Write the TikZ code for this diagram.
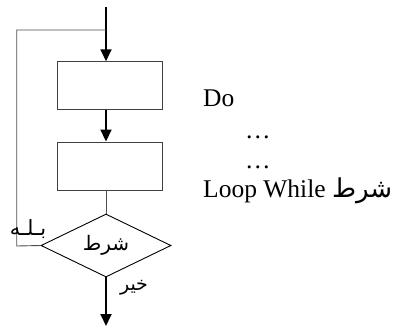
\documentclass[tikz,border=0pt]{standalone}
\usepackage{fontspec}
\setmainfont{Liberation Serif}
\newfontfamily\arabicfont[Script=Arabic]{DejaVu Sans}
\TeXXeTstate=1
\usetikzlibrary{arrows.meta,shapes.geometric}
\tikzset{
  procbox/.style={draw=black!75, line width=0.9pt, minimum width=105.4pt, minimum height=48pt, inner sep=0pt},
  decision/.style={draw=black, line width=0.9pt, diamond, aspect=2, minimum width=130pt, minimum height=63pt, inner sep=0pt},
  flow/.style={line width=1.8pt, -{Triangle[length=12pt,width=11pt]}},
  thickline/.style={line width=1.8pt},
  thinline/.style={draw=black!70, line width=0.9pt},
  codetext/.style={font=\fontsize{25.5}{30}\selectfont, inner sep=0pt},
  lbl/.style={font=\fontsize{18}{20}\selectfont\arabicfont, inner sep=0pt},
}
\begin{document}
\begin{tikzpicture}[x=1pt,y=-1pt]
\useasboundingbox (0,0) rectangle (393,327);
\coordinate (start) at (106,7);
\coordinate (split) at (106,30);
\coordinate (corner1) at (16.7,30);
\coordinate (corner2) at (16.7,246);
\coordinate (endpt) at (106,326);
\node[procbox] (box1) at (110,85.7) {};
\node[procbox] (box2) at (110,166) {};
\node[decision] (cond) at (106,245.5) {};
\node[lbl, font=\fontsize{20}{22}\selectfont\arabicfont] (condtxt) at (cond.center) {\beginR شرط\endR};
% connectors
\draw[thickline] (start) -- (split);
\draw[flow] (split) -- (box1.north -| split);
\draw[flow] (box1.south -| split) -- (box2.north -| split);
\draw[thinline] (box2.south -| cond.north) -- (cond.north);
\draw[flow] (cond.south) -- (endpt);
\draw[thinline] (split) -- (corner1) -- (corner2) -- (cond.west);
% labels
\node[lbl, font=\fontsize{21}{22}\selectfont\arabicfont] (yes) at (28,229) {\beginR بـلـه\endR};
\node[lbl, font=\fontsize{19}{22}\selectfont\arabicfont] (no) at (134,288) {\beginR خير\endR};
% code text
\node[codetext, anchor=base west] (do) at (203,106.5) {Do};
\node[codetext, anchor=base west] (dots1) at (245,138) {\ldots};
\node[codetext, anchor=base west] (dots2) at (245,168) {\ldots};
\node[codetext, anchor=base west] (loop) at (203,197) {Loop While {\arabicfont\fontsize{26}{30}\selectfont\beginR شرط\endR}};
\end{tikzpicture}
\end{document}
